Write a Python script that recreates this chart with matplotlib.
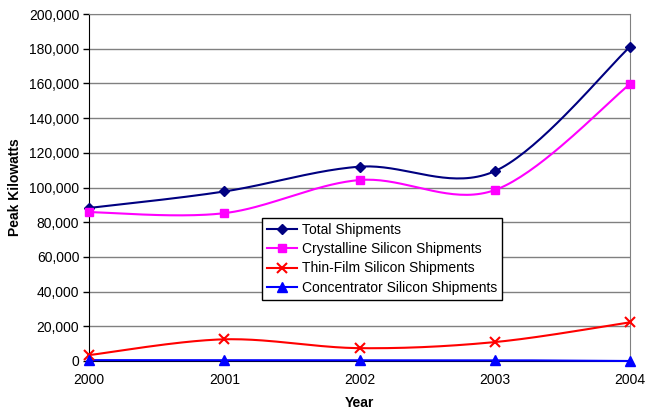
import numpy as np
import matplotlib
matplotlib.use("Agg")
import matplotlib.pyplot as plt
from matplotlib.ticker import FuncFormatter

plt.rcParams['font.family'] = ['Liberation Sans', 'DejaVu Sans']

years = [2000, 2001, 2002, 2003, 2004]
total = [88200, 97700, 112000, 109400, 181100]
crystalline = [85800, 85200, 104300, 98500, 159600]
thin_film = [3400, 12500, 7400, 10900, 22300]
concentrator = [500, 470, 450, 440, 0]

series = [
    ("Total Shipments", total, "#000080", "D", 5),
    ("Crystalline Silicon Shipments", crystalline, "#FF00FF", "s", 6),
    ("Thin-Film Silicon Shipments", thin_film, "#FF0000", "x", 7),
    ("Concentrator Silicon Shipments", concentrator, "#0000FF", "^", 7),
]


def smooth(x, y, n=40):
    x = np.asarray(x, float)
    y = np.asarray(y, float)
    xs, ys = [], []
    for i in range(len(x) - 1):
        p0 = np.array([x[max(i - 1, 0)], y[max(i - 1, 0)]])
        p1 = np.array([x[i], y[i]])
        p2 = np.array([x[i + 1], y[i + 1]])
        p3 = np.array([x[min(i + 2, len(x) - 1)], y[min(i + 2, len(x) - 1)]])
        c1 = p1 + (p2 - p0) / 6.0
        c2 = p2 - (p3 - p1) / 6.0
        t = np.linspace(0, 1, n)[:, None]
        pts = ((1 - t) ** 3) * p1 + 3 * ((1 - t) ** 2) * t * c1 + 3 * (1 - t) * t ** 2 * c2 + t ** 3 * p2
        xs.extend(pts[:, 0])
        ys.extend(pts[:, 1])
    return np.array(xs), np.array(ys)


fig = plt.figure(figsize=(6.48, 4.12), dpi=100)
ax = fig.add_axes([89 / 648, 1 - 361 / 412, (630 - 89) / 648, (361 - 14) / 412])

for name, vals, color, marker, ms in series:
    sx, sy = smooth(years, vals)
    ax.plot(sx, sy, color=color, lw=1.5, zorder=3, clip_on=False)
    ax.plot(years, vals, linestyle="none", marker=marker, color=color, ms=ms,
            mew=1.5 if marker == "x" else 1, zorder=4, clip_on=False)

handles = []
for name, vals, color, marker, ms in series:
    h, = ax.plot([], [], color=color, lw=1.5, marker=marker, ms=ms,
                 mew=1.5 if marker == "x" else 1, label=name)
    handles.append(h)

ax.set_xlim(2000, 2004)
ax.set_ylim(0, 200000)
ax.set_xticks(years)
ax.set_xticklabels([str(y) for y in years])
ax.set_yticks(np.arange(0, 200001, 20000))
ax.yaxis.set_major_formatter(FuncFormatter(lambda v, p: f"{int(v):,}"))
ax.grid(axis="y", color="#808080", lw=1)
ax.set_axisbelow(True)
for s in ["top", "right"]:
    ax.spines[s].set_color("#808080")
for s in ["left", "bottom"]:
    ax.spines[s].set_color("black")
ax.tick_params(axis="y", labelsize=10, length=4, width=1, direction="out", pad=3)
ax.tick_params(axis="x", labelsize=10, length=0, pad=9)
ax.set_ylabel("Peak Kilowatts", fontsize=10, fontweight="bold", labelpad=5)
ax.set_xlabel("Year", fontsize=10, fontweight="bold", labelpad=6)

leg = ax.legend(handles=handles, loc="upper left",
                bbox_to_anchor=((262 - 89) / 541, 1 - (218 - 14) / 347),
                fontsize=10, frameon=True, fancybox=False, edgecolor="black",
                framealpha=1, handlelength=2.2, borderpad=0.35, labelspacing=0.38,
                handletextpad=0.3, borderaxespad=0)
leg.get_frame().set_linewidth(1)

fig.savefig("out.png", dpi=100)
